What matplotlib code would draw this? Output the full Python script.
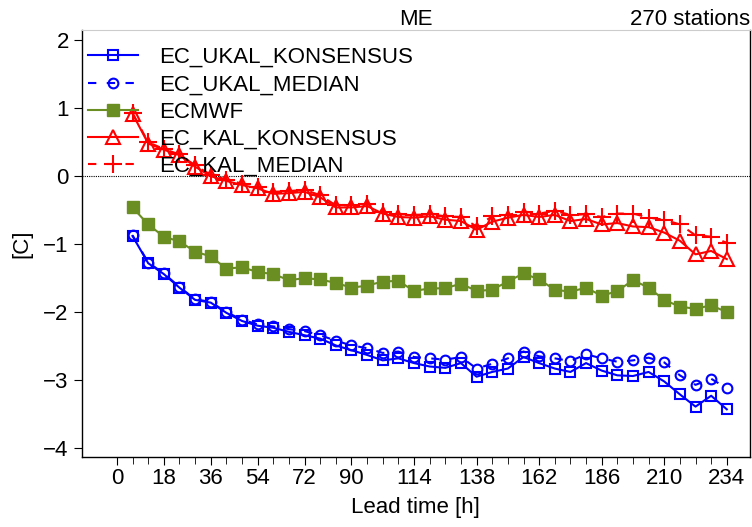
import matplotlib
matplotlib.use("Agg")
import matplotlib.pyplot as plt
import numpy as np

plt.rcParams['font.family'] = ['Liberation Sans', 'DejaVu Sans']

lead_time = list(range(6, 235, 6))

ec_ukal_konsensus = [-0.88, -1.28, -1.44, -1.64, -1.82, -1.86, -2.01, -2.13, -2.20, -2.23,
                     -2.29, -2.34, -2.39, -2.49, -2.56, -2.63, -2.71, -2.68, -2.75, -2.80,
                     -2.82, -2.75, -2.95, -2.88, -2.83, -2.66, -2.75, -2.83, -2.88, -2.75,
                     -2.86, -2.93, -2.94, -2.88, -3.02, -3.21, -3.39, -3.23, -3.43]
ec_ukal_median = [-0.87, -1.27, -1.43, -1.63, -1.81, -1.85, -2.00, -2.11, -2.18, -2.21,
                  -2.25, -2.28, -2.34, -2.42, -2.49, -2.53, -2.60, -2.58, -2.66, -2.68,
                  -2.70, -2.66, -2.83, -2.76, -2.68, -2.58, -2.65, -2.68, -2.72, -2.62,
                  -2.68, -2.73, -2.71, -2.67, -2.74, -2.93, -3.07, -2.98, -3.12]
ecmwf = [-0.46, -0.71, -0.89, -0.96, -1.11, -1.18, -1.36, -1.34, -1.41, -1.44,
         -1.53, -1.50, -1.52, -1.57, -1.64, -1.61, -1.55, -1.54, -1.69, -1.65,
         -1.65, -1.58, -1.69, -1.67, -1.55, -1.43, -1.52, -1.67, -1.70, -1.64,
         -1.76, -1.69, -1.53, -1.64, -1.82, -1.92, -1.95, -1.90, -2.00]
ec_kal_konsensus = [0.92, 0.48, 0.39, 0.31, 0.14, 0.00, -0.07, -0.13, -0.18, -0.26,
                    -0.25, -0.23, -0.31, -0.46, -0.46, -0.44, -0.55, -0.60, -0.61, -0.59,
                    -0.64, -0.66, -0.79, -0.67, -0.61, -0.57, -0.60, -0.57, -0.66, -0.63,
                    -0.71, -0.69, -0.74, -0.75, -0.83, -0.95, -1.15, -1.10, -1.22]
ec_kal_median = [0.93, 0.50, 0.40, 0.32, 0.16, 0.02, -0.05, -0.11, -0.16, -0.23,
                 -0.22, -0.20, -0.28, -0.43, -0.43, -0.41, -0.52, -0.56, -0.57, -0.56,
                 -0.59, -0.60, -0.74, -0.59, -0.57, -0.52, -0.55, -0.51, -0.57, -0.56,
                 -0.60, -0.55, -0.55, -0.61, -0.64, -0.71, -0.87, -0.89, -0.98]

x_tick_labels = [0, 18, 36, 54, 72, 90, 114, 138, 162, 186, 210, 234]
y_ticks = [-4, -3, -2, -1, 0, 1, 2]

fs = 16
fig = plt.figure(figsize=(7.52, 5.27), dpi=100)
ax = fig.add_axes([0.109, 0.133, 0.888, 0.810])

blue = '#0000FF'
red = '#FF0000'
green = '#6B8E23'
dash = (0, (4, 5))

ax.axhline(0, color='black', lw=0.8, ls=(0, (1, 1)))

ax.plot(lead_time, ec_ukal_konsensus, color=blue, lw=1.5, marker='s', ms=7.5,
        mfc='none', mec=blue, mew=1.5, label='EC_UKAL_KONSENSUS')
ax.plot(lead_time, ec_ukal_median, color=blue, lw=1.5, ls=dash, marker='o', ms=7,
        mfc='none', mec=blue, mew=1.5, label='EC_UKAL_MEDIAN')
ax.plot(lead_time, ecmwf, color=green, lw=1.5, marker='s', ms=8,
        mfc=green, mec=green, label='ECMWF')
ax.plot(lead_time, ec_kal_konsensus, color=red, lw=1.5, marker='^', ms=10,
        mfc='none', mec=red, mew=1.5, label='EC_KAL_KONSENSUS')
ax.plot(lead_time, ec_kal_median, color=red, lw=1.5, ls=dash, marker='+', ms=13,
        mec=red, mew=1.5, label='EC_KAL_MEDIAN')

ax.set_xlim(-13.4, 242.8)
ax.set_ylim(-4.13, 2.15)
ax.set_xticks(x_tick_labels)
ax.set_xticklabels([str(v) for v in x_tick_labels], fontsize=fs)
ax.set_xticks(list(range(0, 235, 6)), minor=True)
ax.set_yticks(y_ticks)
ax.set_yticklabels([('\u2212' + str(-v)) if v < 0 else str(v) for v in y_ticks], fontsize=fs)
ax.tick_params(axis='x', which='major', length=6, direction='out', pad=2)
ax.tick_params(axis='x', which='minor', length=5, direction='out')
ax.tick_params(axis='y', which='major', length=6, direction='out')

ax.set_xlabel('Lead time [h]', fontsize=fs, labelpad=6)
ax.set_ylabel('[C]', fontsize=fs, labelpad=8)
ax.set_title('ME', fontsize=fs, pad=2)
ax.set_title('270 stations', fontsize=fs, loc='right', pad=2)

for s in ['left', 'bottom', 'right']:
    ax.spines[s].set_color('black')
    ax.spines[s].set_linewidth(1.0)
ax.spines['top'].set_color('#cccccc')

ax.legend(loc='upper left', bbox_to_anchor=(0.009, 0.96), frameon=False, fontsize=fs,
          handlelength=2.25, handletextpad=0.95, labelspacing=0.28,
          borderaxespad=0.0, borderpad=0.0)

fig.savefig('out.png', dpi=100)
